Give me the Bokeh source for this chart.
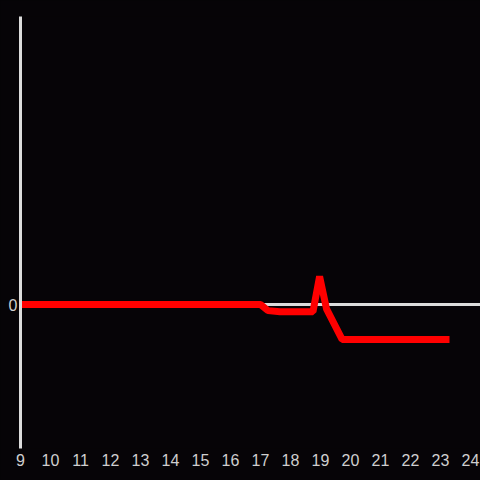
from bokeh.plotting import figure
from bokeh.models import Range1d, FixedTicker
from bokeh.embed import file_html
from bokeh.resources import INLINE

# data
x_vals = [9, 17.0, 17.25, 17.65, 18.75, 18.97, 19.2, 19.72, 23.3]
y_vals = [0, 0, -0.17, -0.2, -0.2, 0.78, -0.12, -0.97, -0.97]
x_ticks = list(range(9, 25))
y_ticks = [0]

BG = "#060407"
AX = "#dcdcdc"
LBL = "#cfcfcf"

p = figure(width=480, height=480, output_backend="svg", toolbar_location=None,
           x_range=Range1d(9, 9 + 460 / 30), y_range=Range1d(-4, 8),
           min_border_left=20, min_border_right=0, min_border_top=16, min_border_bottom=32)
p.background_fill_color = BG
p.border_fill_color = BG
p.outline_line_color = None
p.xgrid.visible = False
p.ygrid.visible = False

p.hspan(y=[0], line_color=AX, line_width=3)
p.line(x_vals, y_vals, line_color="#ff0000", line_width=7, line_cap="butt", line_join="bevel")

p.xaxis.ticker = FixedTicker(ticks=x_ticks)
p.xaxis.axis_line_color = None
p.xaxis.major_tick_line_color = None
p.xaxis.minor_tick_line_color = None
p.xaxis.major_tick_out = 0
p.xaxis.major_tick_in = 0
p.xaxis.major_label_standoff = 5
p.xaxis.major_label_text_color = LBL
p.xaxis.major_label_text_font = "Liberation Sans"
p.xaxis.major_label_text_font_size = "16px"

p.yaxis.ticker = FixedTicker(ticks=y_ticks)
p.yaxis.axis_line_color = AX
p.yaxis.axis_line_width = 3
p.yaxis.major_tick_line_color = None
p.yaxis.minor_tick_line_color = None
p.yaxis.major_tick_out = 0
p.yaxis.major_tick_in = 0
p.yaxis.major_label_standoff = 3
p.yaxis.major_label_text_color = LBL
p.yaxis.major_label_text_font = "Liberation Sans"
p.yaxis.major_label_text_font_size = "16px"

html = file_html(p, INLINE)
html = html.replace("</head>", "<style>html,body{background:%s;}</style></head>" % BG, 1)
open("out.html", "w").write(html)
